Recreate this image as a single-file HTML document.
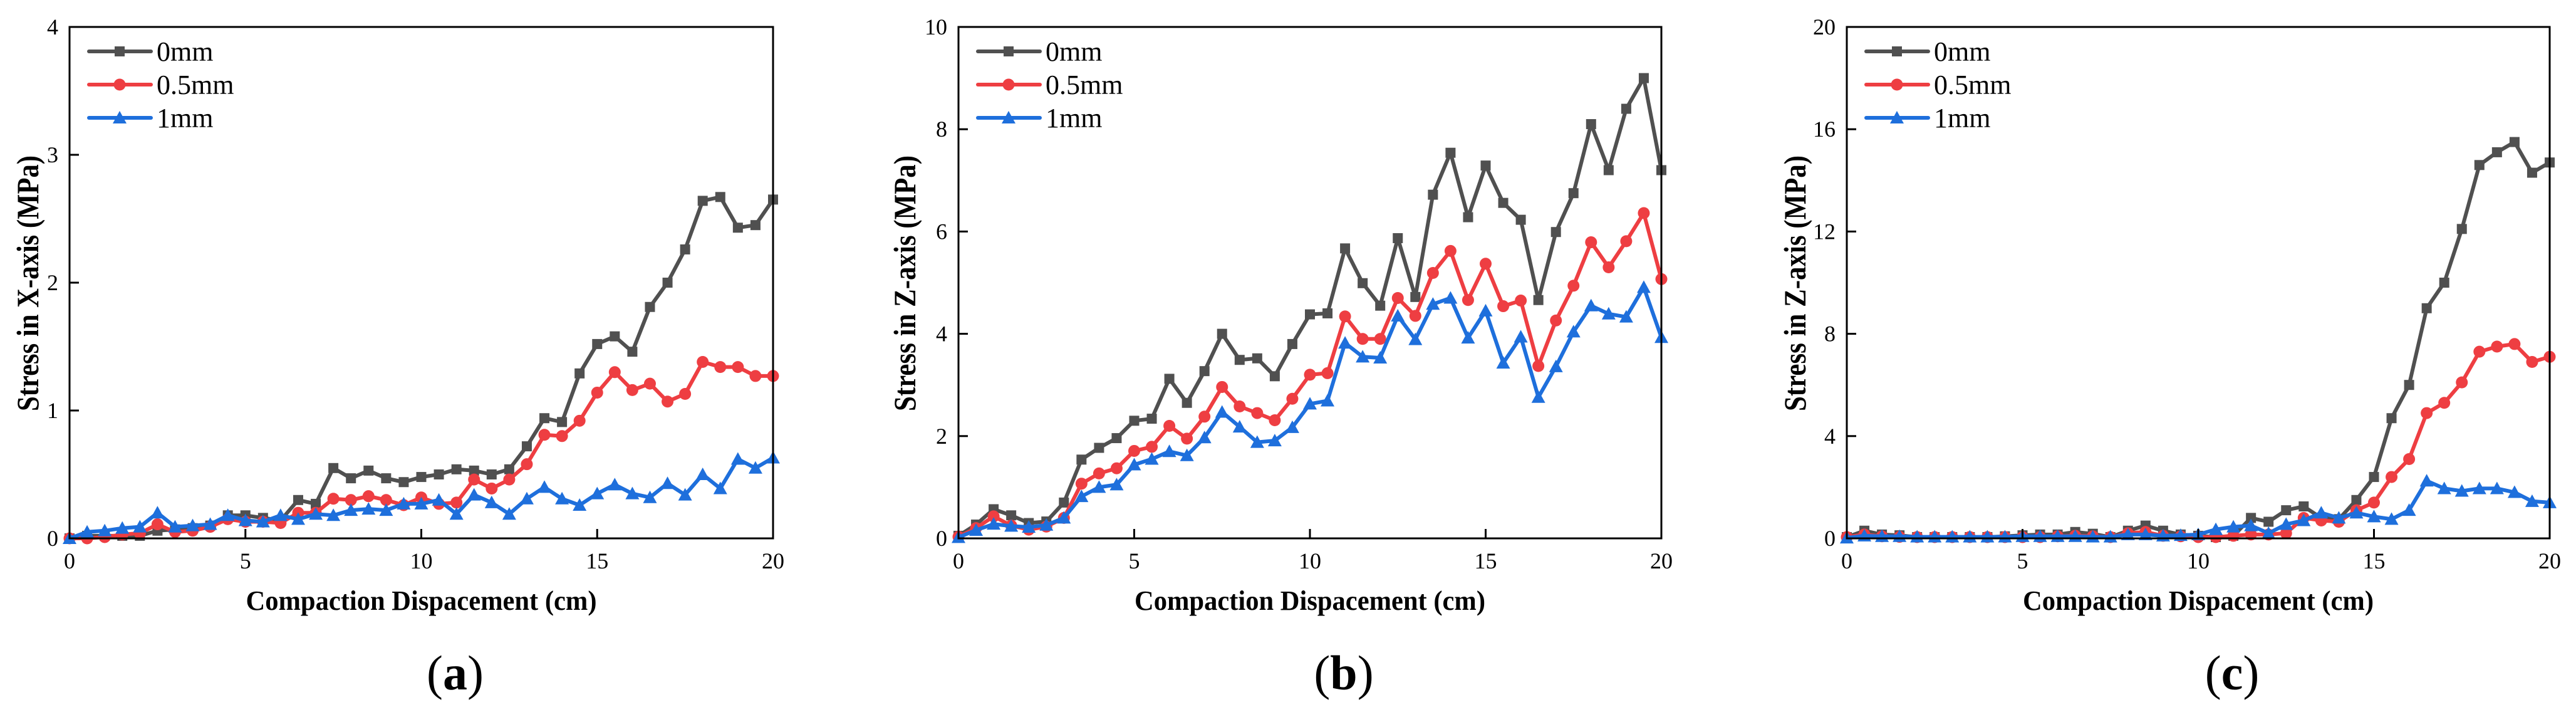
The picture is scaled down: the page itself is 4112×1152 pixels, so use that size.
<!DOCTYPE html>
<html><head><meta charset="utf-8">
<style>
html,body{margin:0;padding:0;background:#fff;}
svg{display:block;font-family:"Liberation Serif",serif;}
</style></head>
<body>
<svg id="fig" width="4112" height="1152" viewBox="0 0 4112 1152" xmlns="http://www.w3.org/2000/svg"></svg>
<script>
const xs = [0,0.5,1,1.5,2,2.5,3,3.5,4,4.5,5,5.5,6,6.5,7,7.5,8,8.5,9,9.5,10,10.5,11,11.5,12,12.5,13,13.5,14,14.5,15,15.5,16,16.5,17,17.5,18,18.5,19,19.5,20];
const seriesNames = ["0mm","0.5mm","1mm"];
const aGray = [0,0.02,0.02,0.02,0.02,0.06,0.07,0.08,0.1,0.18,0.18,0.16,0.14,0.3,0.27,0.55,0.47,0.53,0.47,0.44,0.48,0.5,0.54,0.53,0.5,0.54,0.72,0.94,0.91,1.29,1.52,1.58,1.46,1.81,2.0,2.26,2.64,2.67,2.43,2.45,2.65];
const aRed = [0,0,0.01,0.03,0.04,0.11,0.05,0.06,0.09,0.15,0.13,0.13,0.12,0.2,0.2,0.31,0.3,0.33,0.3,0.26,0.32,0.27,0.28,0.46,0.39,0.46,0.58,0.81,0.8,0.92,1.14,1.3,1.16,1.21,1.07,1.13,1.38,1.34,1.34,1.27,1.27];
const aBlue = [0,0.05,0.06,0.08,0.09,0.2,0.09,0.1,0.11,0.18,0.14,0.13,0.18,0.15,0.19,0.18,0.22,0.23,0.22,0.27,0.27,0.3,0.19,0.34,0.28,0.19,0.31,0.4,0.31,0.26,0.35,0.42,0.35,0.32,0.43,0.34,0.5,0.39,0.62,0.55,0.63];
const bGray = [0.05,0.27,0.57,0.45,0.3,0.33,0.7,1.54,1.77,1.96,2.3,2.34,3.12,2.65,3.27,4.0,3.49,3.52,3.17,3.8,4.38,4.4,5.67,4.99,4.55,5.87,4.72,6.72,7.54,6.28,7.29,6.56,6.23,4.66,5.99,6.75,8.1,7.2,8.4,9.0,7.2];
const bRed = [0.03,0.2,0.43,0.25,0.17,0.23,0.4,1.07,1.27,1.37,1.71,1.79,2.2,1.95,2.38,2.96,2.58,2.45,2.31,2.73,3.2,3.23,4.34,3.9,3.9,4.7,4.35,5.19,5.62,4.66,5.37,4.54,4.65,3.37,4.26,4.94,5.79,5.3,5.81,6.36,5.07];
const bBlue = [0.02,0.16,0.28,0.24,0.22,0.26,0.4,0.82,1.0,1.05,1.44,1.55,1.7,1.62,1.97,2.47,2.18,1.88,1.91,2.17,2.63,2.69,3.82,3.55,3.53,4.35,3.89,4.58,4.7,3.92,4.45,3.43,3.94,2.76,3.36,4.04,4.55,4.39,4.33,4.91,3.93];
const cGray = [0.05,0.3,0.15,0.12,0.05,0.05,0.05,0.05,0.05,0.08,0.12,0.15,0.15,0.25,0.18,0.05,0.3,0.5,0.3,0.15,0.1,0.05,0.1,0.8,0.65,1.1,1.25,0.8,0.75,1.5,2.4,4.7,6.0,9.0,10.0,12.1,14.6,15.1,15.5,14.3,14.7];
const cRed = [0.05,0.15,0.08,0.06,0.05,0.05,0.05,0.05,0.05,0.05,0.05,0.05,0.08,0.1,0.08,0.05,0.2,0.25,0.1,0.08,0.05,0.05,0.1,0.15,0.15,0.2,0.8,0.7,0.65,1.1,1.4,2.4,3.1,4.9,5.3,6.1,7.3,7.5,7.6,6.9,7.1];
const cBlue = [0.02,0.1,0.08,0.08,0.06,0.06,0.06,0.06,0.06,0.06,0.08,0.08,0.08,0.08,0.06,0.06,0.15,0.15,0.1,0.12,0.15,0.35,0.45,0.5,0.2,0.55,0.7,1.0,0.8,1.0,0.85,0.75,1.1,2.25,1.95,1.85,1.95,1.95,1.8,1.45,1.4];
const xTicks = [0,5,10,15,20];
const aYTicks = [0,1,2,3,4];
const bYTicks = [0,2,4,6,8,10];
const cYTicks = [0,4,8,12,16,20];

const NS = "http://www.w3.org/2000/svg";
const svg = document.getElementById("fig");
const colors = ["#505050","#ee3e42","#1e6fdc"];
function mk(tag, attrs, parent){ const e=document.createElementNS(NS,tag); for(const k in attrs) e.setAttribute(k,attrs[k]); (parent||svg).appendChild(e); return e; }
function marker(g, type, x, y, color){
  let m;
  if(type===0){ m=mk("rect",{x:x-8,y:y-8,width:16,height:16,fill:color},g); }
  else if(type===1){ m=mk("circle",{cx:x,cy:y,r:9.5,fill:color},g); }
  else { m=mk("polygon",{points:`${x},${y-11} ${x+11},${y+9} ${x-11},${y+9}`,fill:color},g); }
  return m;
}
function panel(id, left, right, ymax, yTicks, series, ytitle, caption, titleOff){
  const top=43, bottom=859;
  const sx = v => left + (v/20)*(right-left);
  const sy = v => bottom - (v/ymax)*(bottom-top);
  const g = mk("g",{});
  
  
  series.forEach((vals,si)=>{
    const sg = mk("g",{},g);
    
    
    const pts = vals.map((v,i)=>sx(xs[i]).toFixed(1)+","+sy(v).toFixed(1)).join(" ");
    const pl = mk("polyline",{points:pts,fill:"none",stroke:colors[si],"stroke-width":6,"stroke-linejoin":"round"},sg);
    
    
    vals.forEach((v,i)=>{
      const m = marker(sg, si, sx(xs[i]), sy(v), colors[si]);
      
      
    });
  });
  const fr = mk("rect",{x:left,y:top,width:right-left,height:bottom-top,fill:"none",stroke:"#000","stroke-width":3},g);
  
  
  xTicks.forEach(t=>{
    mk("line",{x1:sx(t),x2:sx(t),y1:bottom,y2:bottom-15,stroke:"#000","stroke-width":3},g);
    const tx = mk("text",{x:sx(t),y:907,"font-size":36,"text-anchor":"middle"},g);
    tx.textContent=t;
    
    
  });
  yTicks.forEach(t=>{
    mk("line",{x1:left,x2:left+15,y1:sy(t),y2:sy(t),stroke:"#000","stroke-width":3},g);
    const tx = mk("text",{x:left-18,y:sy(t)+12,"font-size":36,"text-anchor":"end"},g);
    tx.textContent=t;
    
    
  });
  const xt = mk("text",{x:(left+right)/2,y:973,"font-size":44,"font-weight":"bold","text-anchor":"middle",textLength:560,lengthAdjust:"spacingAndGlyphs"},g);
  xt.textContent="Compaction Dispacement (cm)";
  
  
  const yx = left-titleOff, yc = 452;
  const yt = mk("text",{x:yx,y:yc,"font-size":50,"font-weight":"bold","text-anchor":"middle",transform:`rotate(-90 ${yx} ${yc})`,textLength:408,lengthAdjust:"spacingAndGlyphs",dy:16},g);
  yt.textContent=ytitle;
  
  
  const lg = mk("g",{},g);
  
  
  [82,135,188].forEach((ly,si)=>{
    const e = mk("g",{},lg);
    
    
    mk("line",{x1:left+31,x2:left+130,y1:ly,y2:ly,stroke:colors[si],"stroke-width":6,"stroke-linecap":"round"},e);
    marker(e, si, left+80, ly, colors[si]);
    const t = mk("text",{x:left+139,y:ly+15,"font-size":44},e);
    t.textContent=seriesNames[si];
  });
  const cap = mk("text",{x:(left+right)/2+54,y:1100,"font-size":78,"text-anchor":"middle"},g);
  cap.innerHTML = '(<tspan font-weight="bold">'+caption+'</tspan>)';
  
  
}
panel("a",111,1234,4,aYTicks,[aGray,aRed,aBlue],"Stress in X-axis (MPa)","a",66);
panel("b",1530,2652,10,bYTicks,[bGray,bRed,bBlue],"Stress in Z-axis (MPa)","b",85);
panel("c",2948,4070,20,cYTicks,[cGray,cRed,cBlue],"Stress in Z-axis (MPa)","c",82);
</script>
</body></html>
